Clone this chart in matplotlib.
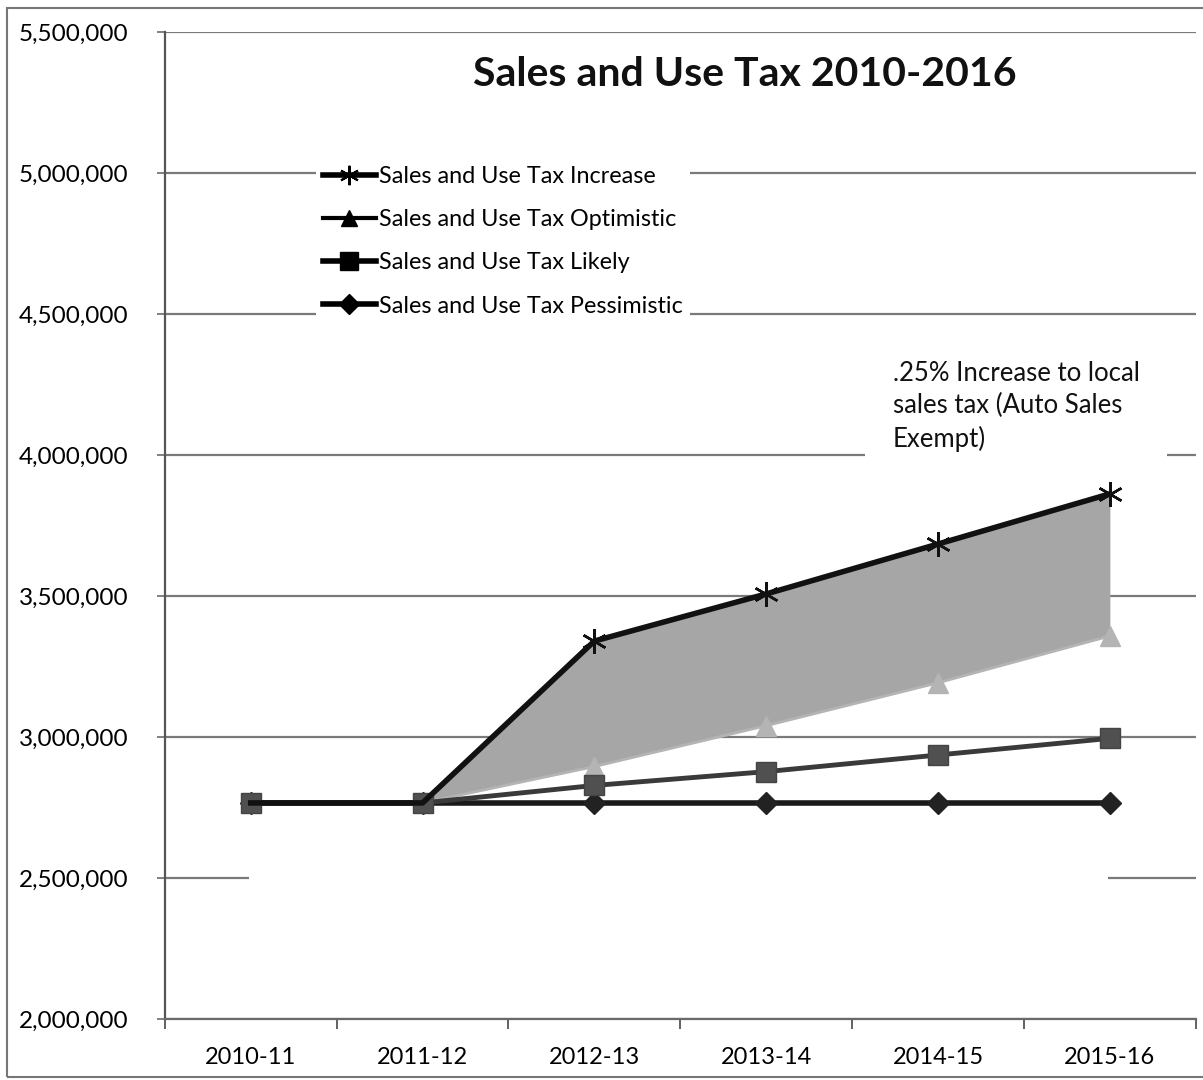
import numpy as np
import matplotlib.pyplot as plt
from matplotlib.lines import Line2D
from matplotlib.patches import Rectangle
from matplotlib.ticker import FuncFormatter, FixedLocator

plt.rcParams['font.family'] = ['Lato', 'DejaVu Sans']

years = ['2010-11', '2011-12', '2012-13', '2013-14', '2014-15', '2015-16']
increase = [2766000, 2766000, 3340000, 3507000, 3684000, 3862000]
optimistic = [2766000, 2766000, 2895000, 3040000, 3192000, 3358000]
likely = [2766000, 2766000, 2828000, 2877000, 2936000, 2995000]
pessimistic = [2766000, 2766000, 2766000, 2766000, 2766000, 2766000]

x = np.arange(len(years))

fig = plt.figure(figsize=(12.03, 10.8), dpi=100)
ax = fig.add_axes([0.137, 0.0565, 0.857, 0.914])

# band between the tax-increase case and the optimistic case
ax.fill_between(x[1:], increase[1:], optimistic[1:], color='#a6a6a6', lw=0, zorder=2)

ax.plot(x, optimistic, color='#b4b4b4', lw=2, marker='^', ms=15,
        mfc='#b4b4b4', mec='#b4b4b4', markevery=slice(2, None), zorder=3)
ax.plot(x, pessimistic, color='#1a1a1a', lw=4, marker='D', ms=11,
        mfc='#222222', mec='#222222', zorder=4)
ax.plot(x, likely, color='#3a3a3a', lw=3.5, marker='s', ms=15,
        mfc='#505050', mec='#444444', zorder=5)
ax.plot(x, increase, color='#111111', lw=4, marker=(6, 2, 0), ms=18, mew=1.8,
        mec='#111111', markevery=slice(2, None), zorder=6)

ax.set_xlim(-0.5, 5.5)
ax.set_ylim(2000000, 5500000)
ax.set_yticks(np.arange(2000000, 5500001, 500000))
ax.yaxis.set_major_formatter(FuncFormatter(lambda v, p: f'{int(v):,}'))
ax.set_xticks(x)
ax.set_xticklabels(years)
ax.xaxis.set_minor_locator(FixedLocator(np.arange(-0.5, 6, 1)))
ax.tick_params(axis='x', which='major', length=0, labelsize=17, pad=20)
ax.tick_params(axis='x', which='minor', length=7, width=1.3, color='#555555', direction='out')
ax.tick_params(axis='y', length=6, width=1.3, color='#777777', labelsize=17.5, pad=20)

ax.grid(axis='y', color='#7a7a7a', lw=1.6, zorder=0)
ax.set_axisbelow(True)
for s in ['top', 'right']:
    ax.spines[s].set_visible(False)
ax.spines['left'].set_color('#555555')
ax.spines['left'].set_linewidth(1.6)
ax.spines['bottom'].set_color('#6a6a6a')
ax.spines['bottom'].set_linewidth(1.6)

# empty white box sitting over the 2,500,000 gridline
ax.add_patch(Rectangle((0.082, 0.13), 0.833, 0.02, transform=ax.transAxes,
                       facecolor='white', edgecolor='none', zorder=1))

fig.text(0.619, 0.931, 'Sales and Use Tax 2010-2016', ha='center', va='center',
         fontsize=29.5, fontweight='bold', color='#111111')

ax.text(0.706, 0.667, '.25% Increase to local\nsales tax (Auto Sales\nExempt)',
        transform=ax.transAxes, ha='left', va='top', fontsize=18.5,
        linespacing=1.36, color='#111111',
        bbox=dict(facecolor='white', edgecolor='none', pad=20), zorder=7)

handles = [
    Line2D([], [], color='black', lw=4, marker=(6, 2, 0), ms=14, mew=1.5),
    Line2D([], [], color='black', lw=3, marker='^', ms=12),
    Line2D([], [], color='black', lw=4, marker='s', ms=13),
    Line2D([], [], color='black', lw=4, marker='D', ms=10),
]
labels = ['Sales and Use Tax Increase', 'Sales and Use Tax Optimistic',
          'Sales and Use Tax Likely', 'Sales and Use Tax Pessimistic']
leg = ax.legend(handles, labels, loc='upper left', bbox_to_anchor=(0.135, 0.883),
                fontsize=16.8, frameon=True, fancybox=False, edgecolor='none',
                facecolor='white', framealpha=1, handlelength=2.3,
                handletextpad=0.12, labelspacing=0.95, borderpad=0.3)
leg.set_zorder(8)

# outer chart border
fig.add_artist(Rectangle((0.006, 0.003), 1.2, 0.99, transform=fig.transFigure,
                         facecolor='none', edgecolor='#777777', lw=1.5))

fig.savefig('out.png', dpi=100, facecolor='white')
